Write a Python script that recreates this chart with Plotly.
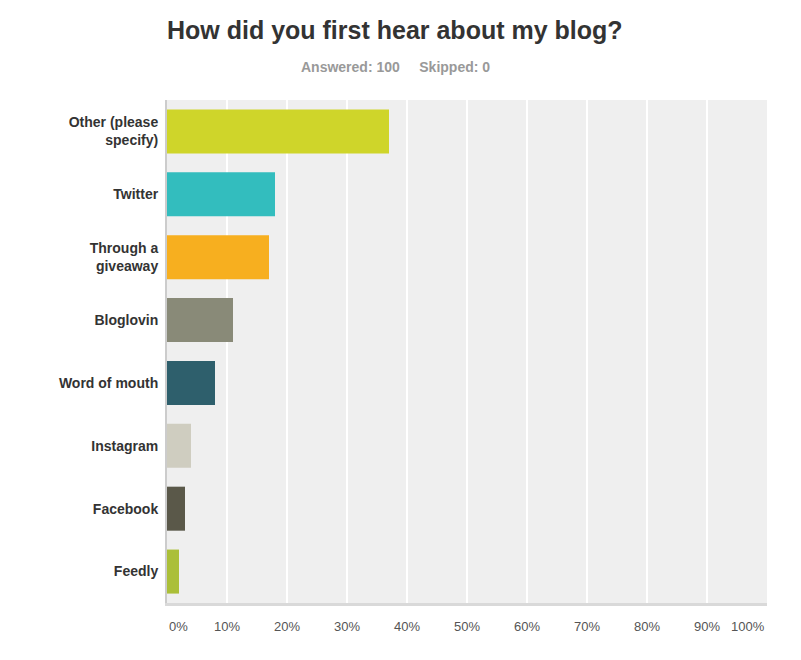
import plotly.graph_objects as go

# datos de la encuesta (porcentaje de respuestas)
categorias = ['Other (please<br>specify)', 'Twitter', 'Through a<br>giveaway', 'Bloglovin',
              'Word of mouth', 'Instagram', 'Facebook', 'Feedly']
porcentajes = [37, 18, 17, 11, 8, 4, 3, 2]
colores = ['#cfd52a', '#33bdbe', '#f7af1f', '#898a78', '#2e5f6c', '#cfcdc0', '#5a5849', '#abbf38']
ticks_x = [0, 10, 20, 30, 40, 50, 60, 70, 80, 90, 100]
ticks_txt = [f'{t}%' for t in ticks_x]

fig = go.Figure(go.Bar(
    x=porcentajes, y=categorias, orientation='h',
    marker=dict(color=colores, line=dict(width=0)),
    width=0.7, hoverinfo='x+y'
))

# el navegador deja 8px de margen en el body
alto_plot = 660 - 92 - 65
fig.update_layout(
    width=801, height=660,
    margin=dict(l=159, r=42, t=92, b=65),
    paper_bgcolor='white', plot_bgcolor='#efefef',
    font=dict(family='Liberation Sans, Arial, sans-serif', color='#333'),
    showlegend=False,
)

centro = (395 - 8 - 159) / 600
fig.add_annotation(text='<b>How did you first hear about my blog?</b>', xref='paper', yref='paper',
                   x=centro, y=1 + (92 - 22) / alto_plot, xanchor='center', yanchor='middle',
                   showarrow=False, font=dict(size=25, color='#333'))
fig.add_annotation(text='<b>Answered: 100&nbsp;&nbsp;&nbsp;&nbsp;&nbsp;Skipped: 0</b>', xref='paper', yref='paper',
                   x=centro, y=1 + (92 - 59) / alto_plot, xanchor='center', yanchor='middle',
                   showarrow=False, font=dict(size=14, color='#999'))

# 0% y 100% alineados al borde como en el original
fig.add_annotation(text=ticks_txt[0], x=ticks_x[0], xref='x', y=0, yref='paper',
                   xanchor='left', yanchor='top', yshift=-14, showarrow=False,
                   font=dict(size=13, color='#555'))
fig.add_annotation(text=ticks_txt[-1], x=ticks_x[-1], xref='x', y=0, yref='paper',
                   xanchor='right', yanchor='top', yshift=-14, showarrow=False,
                   font=dict(size=13, color='#555'))

fig.update_xaxes(range=[0, 100], tickvals=ticks_x[1:-1], ticktext=ticks_txt[1:-1],
                 showgrid=True, gridcolor='white', gridwidth=1.5,
                 zeroline=False, showline=True, linecolor='#d9d9d9', linewidth=3,
                 ticks='', ticklabelstandoff=9,
                 tickfont=dict(size=13, color='#555'), fixedrange=True)
fig.update_yaxes(autorange='reversed', showgrid=False, zeroline=False,
                 showline=True, linecolor='#cccccc', linewidth=2,
                 ticks='', ticklabelstandoff=4,
                 tickfont=dict(size=14, color='#333', weight='bold'), fixedrange=True)

fig.write_html('out.html')
